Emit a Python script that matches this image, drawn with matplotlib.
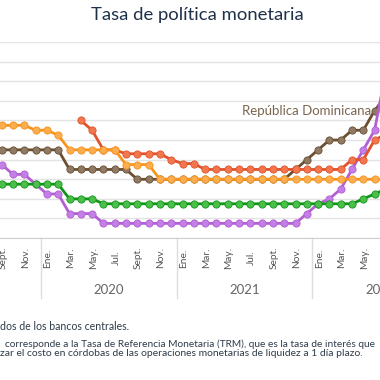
import matplotlib
matplotlib.use("Agg")
import matplotlib.pyplot as plt
import matplotlib.transforms as mtransforms
import numpy as np

plt.rcParams['font.family'] = ['Lato', 'DejaVu Sans']

# monthly index 0 = Sept. 2019
months = np.arange(35)
month_labels = ["Sept.", "Nov.", "Ene.", "Mar.", "May.", "Jul.",
                "Sept.", "Nov.", "Ene.", "Mar.", "May.", "Jul.",
                "Sept.", "Nov.", "Ene.", "Mar.", "May.", "Jul."]
years = ["2020", "2021", "2022"]

honduras = [5.75, 5.75, 5.75, 5.5, 5.5, 5.25, 4.5, 4.5, 4.5, 4.5, 4.5,
            3.75, 3.75, 3.75, 3.0, 3.0, 3.0, 3.0, 3.0, 3.0, 3.0, 3.0, 3.0,
            3.0, 3.0, 3.0, 3.0, 3.0, 3.0, 3.0, 3.0, 3.0, 3.0, 3.0, 3.0]
rep_dom = [4.5, 4.5, 4.5, 4.5, 4.5, 4.5, 3.5, 3.5, 3.5, 3.5, 3.5, 3.5,
           3.0, 3.0, 3.0, 3.0, 3.0, 3.0, 3.0, 3.0, 3.0, 3.0, 3.0, 3.0,
           3.0, 3.0, 3.5, 4.0, 4.5, 5.0, 5.0, 5.5, 5.5, 6.5, 7.25]
guatemala = [2.75, 2.75, 2.75, 2.75, 2.75, 2.75, 2.0, 2.0, 2.0, 1.75,
             1.75, 1.75, 1.75, 1.75, 1.75, 1.75, 1.75, 1.75, 1.75, 1.75,
             1.75, 1.75, 1.75, 1.75, 1.75, 1.75, 1.75, 1.75, 1.75, 1.75,
             1.75, 1.75, 2.0, 2.25, 2.5]
costa_rica = [3.75, 3.25, 3.25, 2.75, 2.25, 2.25, 1.25, 1.25, 1.25, 0.75,
              0.75, 0.75, 0.75, 0.75, 0.75, 0.75, 0.75, 0.75, 0.75, 0.75,
              0.75, 0.75, 0.75, 0.75, 0.75, 0.75, 0.75, 1.25, 1.75, 2.0,
              2.5, 3.5, 4.5, 5.5, 8.5]
nicaragua = [np.nan] * 7 + [6.0, 5.5, 4.5, 4.5, 4.3, 4.3, 4.3, 4.3, 4.0,
                            3.8, 3.8, 3.5, 3.5, 3.5, 3.5, 3.5, 3.5, 3.5,
                            3.5, 3.5, 3.5, 3.5, 3.5, 3.5, 4.0, 4.0, 5.0, 5.3]

W = H = 380
fig = plt.figure(figsize=(3.8, 3.8), dpi=100)

# axes in pixel terms: x0 -> 1.7px, 11.3px per month; y 0 -> 238px, 10 -> 42px
ax = fig.add_axes([0, (H - 238.1) / H, 1, (238.1 - 42) / H])
ax.set_xlim(-1.7 / 11.3, (W - 1.7) / 11.3)
ax.set_ylim(0, 10)

series = [
    (rep_dom, '#6b4f30', '#8f7a66'),
    (costa_rica, '#b35fd4', '#c27fe6'),
    (guatemala, '#11961a', '#4cbf4a'),
    (nicaragua, '#e0532b', '#f2774f'),
    (honduras, '#f7941d', '#fbad4f'),
]
for vals, lc, fc in series:
    ax.plot(months, vals, color=lc, lw=2.0, marker='o', ms=5.2,
            mfc=fc, mec=lc, mew=0.6, solid_joinstyle='round')

ax.set_yticks(np.arange(0, 11, 1))
ax.grid(axis='y', color='#e3e3e3', lw=1)
ax.set_axisbelow(True)
ax.tick_params(left=False, labelleft=False, bottom=False, labelbottom=False)
for s in ['left', 'right', 'top']:
    ax.spines[s].set_visible(False)
ax.spines['bottom'].set_color('#d0d0d0')

ax.text(months[33] - 0.3, 6.5, "República Dominicana", ha='right', va='center',
        fontsize=9.5, color='#7a6650')

# x labels below the axis
tr = mtransforms.blended_transform_factory(ax.transData, fig.transFigure)
for k, lab in enumerate(month_labels):
    ax.text(months[0] + 2 * k + 0.1, (H - 258) / H, lab, transform=tr,
            rotation=90, ha='center', va='center', fontsize=7.3,
            color='#555555', clip_on=False)
for k, yr in enumerate(years):
    ax.text(9.5 + 12 * k, (H - 290) / H, yr, transform=tr, ha='center',
            va='center', fontsize=9.5, color='#666666', clip_on=False)
for xs in [3.5, 15.5, 27.5]:
    ax.plot([xs, xs], [(H - 238) / H, (H - 298) / H], transform=tr,
            color='#dddddd', lw=1, clip_on=False)

fig.text(197 / W, (H - 15) / H, "Tasa de política monetaria", ha='center',
         va='center', fontsize=13.3, color='#1f3049')

foot = '#2e3b4a'
fig.text(0, (H - 327) / H, "dos de los bancos centrales.", ha='left',
         va='center', fontsize=7.6, color=foot)
fig.text(5 / W, (H - 344) / H,
         "corresponde a la Tasa de Referencia Monetaria (TRM), que es la tasa de interés que",
         ha='left', va='center', fontsize=7.3, color=foot)
fig.text(0, (H - 353) / H,
         "zar el costo en córdobas de las operaciones monetarias de liquidez a 1 día plazo.",
         ha='left', va='center', fontsize=7.5, color=foot)

fig.savefig("out.png", dpi=100)
